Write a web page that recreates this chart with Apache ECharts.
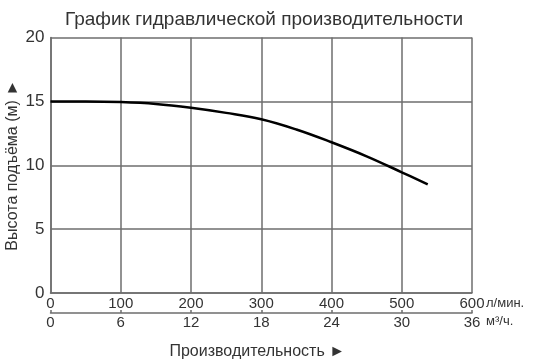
<!DOCTYPE html>
<html>
<head>
<meta charset="utf-8">
<script src="https://cdn.jsdelivr.net/npm/echarts@6/dist/echarts.min.js"></script>
<style>html,body{margin:0;padding:0;background:#fff;}#c{width:534px;height:362px;}</style>
</head>
<body>
<div id="c"></div>
<script>
var flowLmin = [0, 50, 100, 150, 200, 250, 300, 350, 400, 450, 500, 537];
var headM = [15, 15, 14.95, 14.8, 14.5, 14.1, 13.6, 12.8, 11.8, 10.7, 9.45, 8.5];
var yTicks = [0, 5, 10, 15, 20];
var lminTicks = [0, 100, 200, 300, 400, 500, 600];
var m3hTicks = [0, 6, 12, 18, 24, 30, 36];

var gridColor = '#6e6e6e';
var textColor = '#333';
var font = 'Liberation Sans, Arial, sans-serif';

var chart = echarts.init(document.getElementById('c'), null, {renderer: 'canvas'});
chart.setOption({
  animation: false,
  backgroundColor: '#fff',
  title: {
    text: 'График гидравлической производительности',
    left: 60, top: 5,
    textStyle: {fontFamily: font, fontSize: 19, fontWeight: 'normal', color: textColor}
  },
  grid: {left: 50.5, right: 62, top: 37.5, bottom: 69, containLabel: false, outerBoundsMode: 'none'},
  xAxis: [{
    type: 'value', min: lminTicks[0], max: lminTicks[lminTicks.length - 1], interval: 100,
    position: 'bottom',
    axisLine: {show: true, lineStyle: {color: gridColor, width: 1.5}},
    axisTick: {show: false},
    splitLine: {show: true, lineStyle: {color: gridColor, width: 1.5}},
    axisLabel: {margin: 3, fontFamily: font, fontSize: 15, color: textColor}
  }, {
    type: 'value', min: m3hTicks[0], max: m3hTicks[m3hTicks.length - 1], interval: 6,
    position: 'bottom', offset: 20,
    axisLine: {show: true, lineStyle: {color: gridColor, width: 1.5}},
    axisTick: {show: true, length: 3, inside: true, lineStyle: {color: gridColor, width: 1.5}},
    splitLine: {show: false},
    axisLabel: {margin: 2, fontFamily: font, fontSize: 15, color: textColor},
    name: 'Производительность ►', nameLocation: 'middle', nameGap: 31,
    nameTextStyle: {fontFamily: font, fontSize: 16, color: textColor, padding: [0, 8, 0, 0]}
  }],
  yAxis: [{
    type: 'value', min: yTicks[0], max: yTicks[yTicks.length - 1], interval: 5,
    axisLine: {show: true, lineStyle: {color: gridColor, width: 1.5}},
    axisTick: {show: false},
    splitLine: {show: true, lineStyle: {color: gridColor, width: 1.5}},
    axisLabel: {margin: 6, fontFamily: font, fontSize: 17, color: textColor, padding: [0, 0, 4, 0]},
    name: 'Высота подъёма (м) ►', nameLocation: 'middle', nameGap: 30, nameRotate: 90,
    nameMoveOverlap: false,
    nameTextStyle: {fontFamily: font, fontSize: 16, color: textColor}
  }],
  graphic: [
    {type: 'text', left: 486, top: 297, style: {text: 'л/мин.', fontFamily: font, fontSize: 13, fill: textColor}},
    {type: 'text', left: 486, top: 315, style: {text: 'м³/ч.', fontFamily: font, fontSize: 13, fill: textColor}}
  ],
  series: [{
    type: 'line', xAxisIndex: 0, yAxisIndex: 0,
    data: flowLmin.map(function (q, i) { return [q, headM[i]]; }),
    smooth: 0.4, showSymbol: false,
    lineStyle: {color: '#000', width: 2.5}
  }]
});
</script>
</body>
</html>
